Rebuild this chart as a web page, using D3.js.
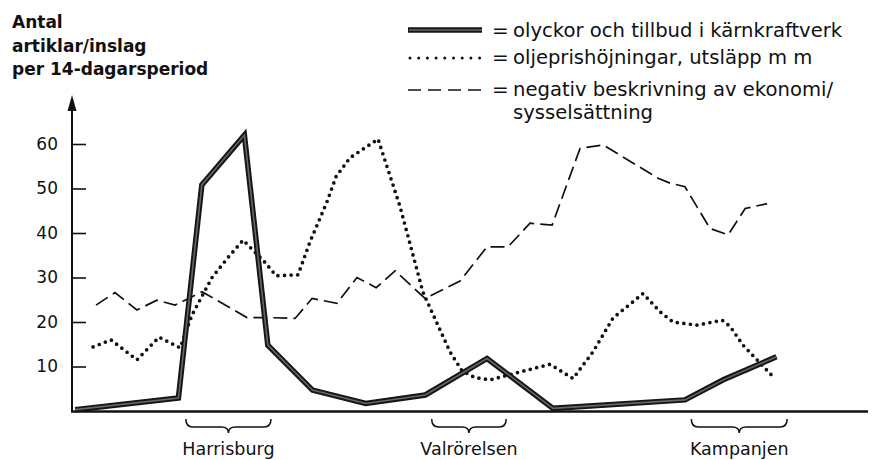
<!DOCTYPE html>
<html><head><meta charset="utf-8">
<script src="https://d3js.org/d3.v7.min.js"></script>
<style>
html,body{margin:0;padding:0;background:#fff;}
svg{display:block;}
text{font-family:"DejaVu Sans",sans-serif;fill:#111;}
</style></head>
<body><svg id="c" width="877" height="460"></svg>
<script>
// ---- data (x = position in 14-day periods from start of chart) ----
const accPeriod  = [0.15, 5.0, 6.1, 8.1, 9.2, 11.3, 13.8, 16.6, 19.5, 22.6, 28.8, 30.6, 33.1];
const accValue   = [0.3, 2.9, 50.8, 62, 14.8, 4.7, 1.7, 3.6, 11.8, 0.6, 2.5, 7, 12.2];

const oilPeriod  = [0.99,1.83,3.05,4.09,5.08,5.64,6.02,6.58,7.33,8.04,9.07,9.59,10.62,11.18,11.98,12.41,13.06,14.38,15.41,16.49,17.76,18.33,18.94,19.64,20.82,22.46,23.54,24.48,25.42,26.83,27.63,28.24,29.37,30.55,30.92,31.53,32.94];
const oilValue   = [14.4,16,11.5,16.6,14.2,21.6,25,30,34.5,38.4,33.4,30.4,30.6,38,47,52.7,56.9,61.1,46,26.7,13.3,9,7.5,7,8.5,10.5,7.3,13.3,20.9,26.4,22.3,20,19.3,20.4,19,14.8,7.7];

const econPeriod = [1.13,2.02,3.05,3.99,4.84,6.11,8.22,9.21,10.48,11.28,12.45,13.39,14.29,15.18,16.59,18.23,19.5,20.49,21.52,22.56,23.87,24.95,27.54,28.1,28.8,29.98,30.83,31.63,32.66];
const econValue  = [23.8,26.6,22.7,24.9,23.8,26.8,21.0,21,20.8,25.3,24.2,30,27.7,31.5,25.3,29.2,36.9,36.9,42.2,41.8,59,59.8,52.3,51.2,50.4,41,39.6,45.5,46.6];

const yTicks = [10, 20, 30, 40, 50, 60];
const titleLines = ["Antal", "artiklar/inslag", "per 14-dagarsperiod"];
const legendLabels = ["olyckor och tillbud i kärnkraftverk", "oljeprishöjningar, utsläpp m m", "negativ beskrivning av ekonomi/", "sysselsättning"];
const periodLabels = ["Harrisburg", "Valrörelsen", "Kampanjen"];
const periodStart = [5.35, 16.9, 29.1];
const periodEnd   = [9.35, 20.4, 33.6];

// ---- layout ----
const svg = d3.select("#c");
const x = d3.scaleLinear().domain([0, 37.4]).range([72, 868]);
const y = d3.scaleLinear().domain([0, 60]).range([411, 144]);

// title
svg.append("g").selectAll("text").data(titleLines).join("text")
  .attr("x", 12).attr("y", (d,i) => 28 + i*23.5)
  .attr("font-size", 17).attr("font-weight", "bold").text(d => d);

// y axis
const yAxis = d3.axisLeft(y).tickValues(yTicks).tickSizeInner(-14).tickSizeOuter(0).tickPadding(14);
const gy = svg.append("g").attr("transform", "translate(72,0)").call(yAxis);
gy.select(".domain").remove();
gy.selectAll(".tick line").attr("stroke", "#111").attr("stroke-width", 1.6);
gy.selectAll(".tick text").attr("font-size", 17).attr("font-family", "DejaVu Sans").attr("fill", "#111");
svg.append("line").attr("x1", 72).attr("x2", 72).attr("y1", 412).attr("y2", 104)
  .attr("stroke", "#111").attr("stroke-width", 2);
svg.append("path").attr("d", "M72,95 L67.5,111 L76.5,111 Z").attr("fill", "#111");

// x axis
svg.append("line").attr("x1", 71).attr("x2", x(37.4)).attr("y1", 411.5).attr("y2", 411.5)
  .attr("stroke", "#111").attr("stroke-width", 2.4);

// lines
const mk = (px, vy) => px.map((p, i) => [p, vy[i]]);
const line = d3.line().x(d => x(d[0])).y(d => y(d[1]));

svg.append("path").attr("d", line(mk(econPeriod, econValue)))
  .attr("fill", "none").attr("stroke", "#111").attr("stroke-width", 1.7)
  .attr("stroke-dasharray", "14 6");

svg.append("path").attr("d", line(mk(oilPeriod, oilValue)))
  .attr("fill", "none").attr("stroke", "#111").attr("stroke-width", 3.7)
  .attr("stroke-linecap", "round").attr("stroke-dasharray", "0 6.6");

const accPath = line(mk(accPeriod, accValue));
svg.append("path").attr("d", accPath).attr("fill", "none").attr("stroke", "#151515")
  .attr("stroke-width", 5.5).attr("stroke-linejoin", "miter").attr("stroke-miterlimit", 10);
svg.append("path").attr("d", accPath).attr("fill", "none").attr("stroke", "#666")
  .attr("stroke-width", 1.6).attr("stroke-linejoin", "miter").attr("stroke-miterlimit", 10);

// legend
const lgY = [37, 64, 96, 119];
const lx0 = 408, lx1 = 482;
svg.append("line").attr("x1", lx0).attr("x2", lx1).attr("y1", lgY[0]-7).attr("y2", lgY[0]-7)
  .attr("stroke", "#151515").attr("stroke-width", 5.5);
svg.append("line").attr("x1", lx0+1).attr("x2", lx1).attr("y1", lgY[0]-7).attr("y2", lgY[0]-7)
  .attr("stroke", "#666").attr("stroke-width", 1.6);
svg.append("line").attr("x1", lx0+2).attr("x2", lx1).attr("y1", lgY[1]-6).attr("y2", lgY[1]-6)
  .attr("stroke", "#111").attr("stroke-width", 3).attr("stroke-linecap", "round").attr("stroke-dasharray", "0 8.7");
svg.append("line").attr("x1", lx0).attr("x2", lx1).attr("y1", lgY[2]-6).attr("y2", lgY[2]-6)
  .attr("stroke", "#111").attr("stroke-width", 1.6).attr("stroke-dasharray", "13 7");
[0,1,2].forEach(i => svg.append("text").attr("x", 492).attr("y", lgY[i]).attr("font-size", 20).text("="));
svg.append("g").selectAll("text").data(legendLabels).join("text")
  .attr("x", 513).attr("y", (d,i) => lgY[i]).attr("font-size", 19.6).text(d => d);

// period braces
const braceY = 419;
function brace(a, b) {
  const m = (a + b) / 2, r = 7, h1 = 8, h2 = 6;
  return `M${a},${braceY} Q${a},${braceY+h1} ${a+r},${braceY+h1} L${m-r},${braceY+h1} Q${m},${braceY+h1} ${m},${braceY+h1+h2} Q${m},${braceY+h1} ${m+r},${braceY+h1} L${b-r},${braceY+h1} Q${b},${braceY+h1} ${b},${braceY}`;
}
const gb = svg.append("g");
periodLabels.forEach((lab, i) => {
  const a = x(periodStart[i]), b = x(periodEnd[i]);
  gb.append("path").attr("d", brace(a, b)).attr("fill", "none").attr("stroke", "#111").attr("stroke-width", 1.5);
  gb.append("text").attr("x", (a+b)/2).attr("y", 455).attr("text-anchor", "middle")
    .attr("font-size", 17.5).text(lab);
});
</script></body></html>
